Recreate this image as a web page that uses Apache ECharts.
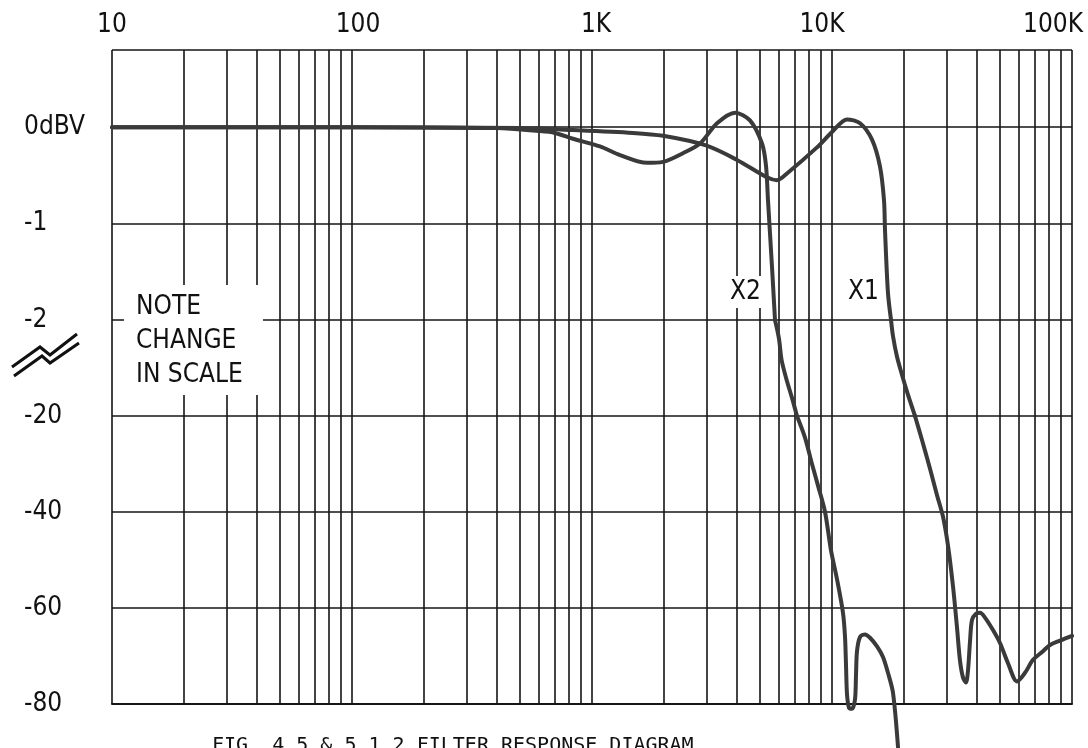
<!DOCTYPE html>
<html>
<head>
<meta charset="utf-8">
<script src="https://cdn.jsdelivr.net/npm/echarts@6/dist/echarts.min.js"></script>
<style>
html,body{margin:0;padding:0;background:#ffffff;}
#chart{width:1088px;height:748px;}
</style>
</head>
<body>
<div id="chart"></div>
<script>
// ---------- DATA ----------
const freqDecades = [10, 100, 1000, 10000, 100000];
const freqDecadeLabels = ['10', '100', '1K', '10K', '100K'];
const freqMinorLines = [20,30,40,50,60,70,80,90,
  200,300,400,500,600,700,800,900,
  2000,3000,4000,5000,6000,7000,8000,9000,
  20000,30000,40000,50000,60000,70000,80000,90000];
const fineTicks = [0, -1, -2];
const fineTickLabels = ['0dBV', '-1', '-2'];
const coarseTicks = [-20, -40, -60, -80];
const coarseTickLabels = ['-20', '-40', '-60', '-80'];

// [frequency Hz, level dB]
const curveX1 = [
  [10,0],[100,0],[500,-0.01],[833,-0.03],[1480,-0.06],[1977,-0.09],[2985,-0.19],
  [4020,-0.34],[5355,-0.52],[5900,-0.55],[6490,-0.48],[8660,-0.21],[10000,-0.05],
  [11550,0.08],[13090,0.04],[14680,-0.13],[15850,-0.41],[16470,-0.76],[16630,-1.07],
  [17110,-1.72],[17620,-2],
  [17950,-5],[18660,-8.9],[19580,-12.3],[20720,-16],[21760,-18.9],[22170,-20],
  [23714,-25],[25610,-31],[27390,-36.5],[29010,-41],[30430,-47],[31930,-55.5],
  [33170,-64],[34150,-71],[35150,-74.5],[36160,-75.5],[36870,-73],[37580,-67],
  [38310,-62.5],[39810,-61.2],[41370,-61],[43400,-62],[46860,-64.6],[50120,-67.3],
  [54120,-71.5],[58990,-75.3],[63720,-73.5],[68790,-70.8],[75720,-69],[80960,-67.7],
  [89130,-66.8],[100000,-65.8]
];
const curveX2 = [
  [10,0],[100,0],[400,-0.01],[600,-0.04],[700,-0.06],[833,-0.12],[1080,-0.2],
  [1308,-0.29],[1695,-0.37],[1977,-0.36],[2393,-0.27],[2818,-0.17],[3318,0.04],
  [3943,0.15],[4553,0.07],[5109,-0.17],[5309,-0.4],[5412,-0.76],[5516,-1.1],
  [5623,-1.45],[5788,-2],
  [6012,-5.5],[6166,-9.5],[6494,-13.5],[6813,-16.6],[7145,-20],
  [7718,-24.5],[8254,-30],[8743,-34.5],[9354,-40],[9904,-48],[10491,-54],
  [11110,-61],[11330,-66],[11440,-72],[11550,-78],[11770,-80.8],[12120,-81],
  [12470,-79],[12590,-74],[12710,-69],[13090,-66],[13730,-65.5],[14400,-66.2],
  [15400,-68],[16310,-70.2],[17110,-73.5],[17960,-77.7],[18840,-89]
];

// ---------- STYLE / LAYOUT ----------
const FONT = '"DejaVu Sans Condensed","Liberation Sans Narrow","Liberation Sans",sans-serif';
const GRID_COLOR = '#151515';
const GRID_W = 1.6;
const CURVE_COLOR = '#3a3a3a';
const CURVE_W = 4;
const L = 112, R = 16;
const bands = [
  {top: 50, height: 270, min: -2, max: 0.8},     // fine scale
  {top: 320, height: 96, min: -20, max: -2},     // change of scale
  {top: 416, height: 288, min: -80, max: -20}    // coarse scale
];

function inBand(i, pts) {
  const b = bands[i];
  return pts.filter(p => p[1] <= b.max + 1e-9 && (i === 2 || p[1] >= b.min - 1e-9));
}

const grids = bands.map(b => ({left: L, right: R, top: b.top, height: b.height}));
grids.push({left: L, right: R, top: 50, height: 654});

const xAxes = [0,1,2].map(i => ({
  type: 'log', logBase: 10, min: 10, max: 100000, gridIndex: i, show: false
}));
xAxes.push({
  type: 'log', logBase: 10, min: 10, max: 100000, gridIndex: 3, position: 'top',
  axisLine: {show: true, lineStyle: {color: GRID_COLOR, width: 2}},
  axisTick: {show: false},
  splitLine: {show: true, lineStyle: {color: GRID_COLOR, width: GRID_W}},
  axisLabel: {
    show: true, margin: 12, color: '#111',
    fontFamily: FONT, fontSize: 26,
    formatter: v => {
      const i = freqDecades.findIndex(d => Math.abs(d - v) / d < 1e-6);
      return i < 0 ? '' : '{s' + i + '|' + freqDecadeLabels[i] + '}';
    },
    rich: {
      s0: {fontFamily: FONT, fontSize: 26, color: '#111'},
      s1: {fontFamily: FONT, fontSize: 26, color: '#111', padding: [0,0,0,12]},
      s2: {fontFamily: FONT, fontSize: 26, color: '#111', padding: [0,0,0,8]},
      s3: {fontFamily: FONT, fontSize: 26, color: '#111', padding: [0,20,0,0]},
      s4: {fontFamily: FONT, fontSize: 26, color: '#111', padding: [0,38,0,0]}
    }
  }
});

const yLabelBase = {
  show: true, align: 'left', margin: 88, color: '#111',
  fontFamily: FONT, fontSize: 26, padding: [0,0,14,0]
};
const yAxes = [
  {
    type: 'value', gridIndex: 0, min: bands[0].min, max: bands[0].max, interval: 1,
    axisLine: {show: false}, axisTick: {show: false},
    splitLine: {show: true, lineStyle: {color: GRID_COLOR, width: GRID_W}},
    axisLabel: Object.assign({}, yLabelBase, {
      formatter: v => { const i = fineTicks.indexOf(v); return i < 0 ? '' : fineTickLabels[i]; }
    })
  },
  {type: 'value', gridIndex: 1, min: bands[1].min, max: bands[1].max, show: false},
  {
    type: 'value', gridIndex: 2, min: bands[2].min, max: bands[2].max, interval: 20,
    axisLine: {show: false}, axisTick: {show: false},
    splitLine: {show: true, lineStyle: {color: GRID_COLOR, width: GRID_W}},
    axisLabel: Object.assign({}, yLabelBase, {
      formatter: v => { const i = coarseTicks.indexOf(v); return i < 0 ? '' : coarseTickLabels[i]; }
    })
  },
  {type: 'value', gridIndex: 3, min: 0, max: 1, show: false}
];

const series = [];
series.push({
  type: 'line', xAxisIndex: 3, yAxisIndex: 3, data: [[10, 0.5]],
  showSymbol: false, lineStyle: {width: 0}, silent: true, z: 1,
  markLine: {
    silent: true, symbol: ['none', 'none'], animation: false,
    label: {show: false},
    lineStyle: {color: GRID_COLOR, width: GRID_W, type: 'solid'},
    emphasis: {disabled: true},
    data: freqMinorLines.map(f => ({xAxis: f}))
  }
});
[['X1', curveX1], ['X2', curveX2]].forEach(([name, pts]) => {
  bands.forEach((b, i) => {
    series.push({
      name: name, type: 'line', xAxisIndex: i, yAxisIndex: i,
      data: inBand(i, pts), showSymbol: false, clip: false,
      smooth: 0.3, z: 5,
      lineStyle: {color: CURVE_COLOR, width: CURVE_W, cap: 'round', join: 'round'},
      emphasis: {disabled: true}, silent: true
    });
  });
});

const graphic = [
  {type: 'rect', z: 50, silent: true, shape: {x: 124, y: 285, width: 139, height: 110}, style: {fill: '#ffffff'}},
  {type: 'text', z: 60, silent: true, x: 136, y: 290,
    style: {text: 'NOTE\nCHANGE\nIN SCALE', font: '26px ' + FONT, fill: '#111', lineHeight: 34, textVerticalAlign: 'top'}},
  {type: 'polyline', z: 60, silent: true, shape: {points: [[12,367],[40,347],[50,355],[77,334]]}, style: {stroke: '#111', lineWidth: 3, fill: null}},
  {type: 'polyline', z: 60, silent: true, shape: {points: [[14,376],[42,356],[50,363],[79,343]]}, style: {stroke: '#111', lineWidth: 3, fill: null}},
  {type: 'text', z: 60, silent: true, x: 727, y: 276,
    style: {text: 'X2', font: '26px ' + FONT, fill: '#111', backgroundColor: '#fff', padding: [3,3,3,3], textVerticalAlign: 'top'}},
  {type: 'text', z: 60, silent: true, x: 845, y: 276,
    style: {text: 'X1', font: '26px ' + FONT, fill: '#111', backgroundColor: '#fff', padding: [3,3,3,3], textVerticalAlign: 'top'}},
  {type: 'text', z: 60, silent: true, x: 212, y: 736,
    style: {text: 'FIG. 4.5 & 5.1.2 FILTER RESPONSE DIAGRAM', font: '20px "DejaVu Sans Mono","Liberation Mono",monospace', fill: '#111', textVerticalAlign: 'top'}}
];

const chart = echarts.init(document.getElementById('chart'), null, {renderer: 'canvas'});
chart.setOption({
  animation: false,
  backgroundColor: '#ffffff',
  grid: grids,
  xAxis: xAxes,
  yAxis: yAxes,
  series: series,
  graphic: graphic
});
</script>
</body>
</html>
